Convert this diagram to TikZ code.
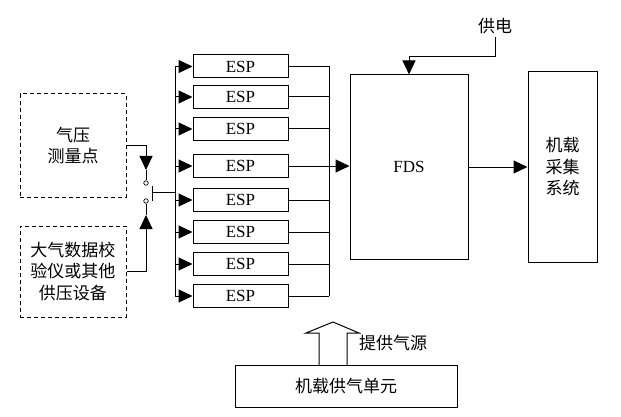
\documentclass[tikz,border=0pt]{standalone}
\usepackage{fontspec}
\setmainfont{Liberation Serif}
\newfontfamily\cjk{Noto Sans CJK SC}
\usetikzlibrary{arrows.meta}
\tikzset{every node/.style={font=\fontsize{17}{21.5}\selectfont,inner sep=0pt,align=center},
  blk/.style={draw,line width=1pt},
  dbox/.style={draw,line width=1pt,dash pattern=on 4pt off 3pt},
  esp/.style={blk,minimum width=95pt,minimum height=23pt},
  dot/.style={circle,draw,line width=0.7pt,minimum size=4.5pt},
  tri/.style={-{Triangle[length=14pt,width=13pt]}}}

\begin{document}
\begin{tikzpicture}[x=1pt,y=-1pt,line width=1pt]
      \useasboundingbox (0,0) rectangle (621,417);
      \node[dbox,minimum width=106pt,minimum height=103pt] (p) at (73,145.5) {\cjk 气压\\\cjk 测量点};
      \node[dbox,minimum width=106pt,minimum height=91pt] (c) at (73,271.5) {\cjk 大气数据校\\\cjk 验仪或其他\\\cjk 供压设备};
      \node[dot] (s1) at (146,183) {};
      \node[dot] (s2) at (146,201) {};
      \coordinate (t1) at (146,170);
      \coordinate (t2) at (146,215);
      \coordinate (sw) at (152,192);
      \coordinate (lb) at (175,192);
      \coordinate (rb) at (329,192);

\foreach \i/\y in {1/66.5,2/97,3/129,4/166,5/200,6/232,7/264,8/296}
  \node[esp] (e\i) at (240.5,\y) {ESP};

      \node[blk,minimum width=118pt,minimum height=184pt] (fds) at (409,167) {\raisebox{-5pt}{FDS}};
      \node[blk,minimum width=69pt,minimum height=190pt] (sys) at (562.5,167) {\cjk 机载\\\cjk 采集\\\cjk 系统};
      \node[blk,minimum width=222pt,minimum height=42pt] (gas) at (346,386) {\cjk 机载供气单元};
      \node[inner sep=3pt] (pw) at (495,26) {\cjk 供电};
      \node (src) at (393,343) {\cjk 提供气源};
      \coordinate (pc) at (409,57);

% switch
\draw[tri] (p.east) -| (t1);
\draw (t1) -- (s1);
\draw[tri] (c.east) -| (t2);
\draw (t2) -- (s2);
\draw (152,186) -- (152,201);
\draw (sw) -- (lb);

% buses
\draw (e1.west -| lb) -- (e8.west -| lb);
\draw (e1.east -| rb) -- (e8.east -| rb);
\foreach \i in {1,...,8}
  \draw[tri] (e\i.west -| lb) -- (e\i.west);
\foreach \i in {1,...,8}
  \draw (e\i.east) -- (e\i.east -| rb);
\draw[tri] (e4.east -| rb) -- (fds.west |- e4.east);

\draw[tri] (fds.east) -- (sys.west);
\draw[tri] (pw.south) |- (pc) -- (fds.north);

% air supply
\draw (319,365) -- (319,333) -- (306,333) -- (333,322) -- (359,333) -- (347,333) -- (347,365);
    \end{tikzpicture}
\end{document}
